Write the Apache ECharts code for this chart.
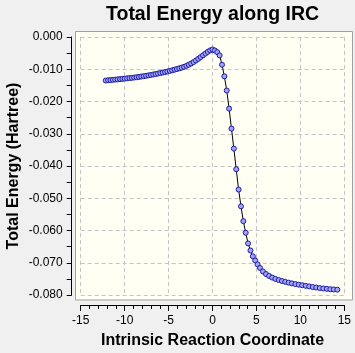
<!DOCTYPE html>
<html>
<head>
<meta charset="utf-8">
<script src="https://cdn.jsdelivr.net/npm/echarts@6/dist/echarts.min.js"></script>
<style>
  html, body { margin: 0; padding: 0; background: #f0f0f0; }
  #chart { width: 355px; height: 353px; }
</style>
</head>
<body>
<div id="chart"></div>
<script>
// IRC coordinate of each point
var ircX = [
    -12.15, -11.88, -11.61, -11.34, -11.07, -10.80, -10.53, -10.26, -9.99, -9.72,
    -9.45, -9.18, -8.91, -8.64, -8.37, -8.10, -7.83, -7.56, -7.29, -7.02,
    -6.75, -6.48, -6.21, -5.94, -5.67, -5.40, -5.13, -4.86, -4.59, -4.32,
    -4.05, -3.78, -3.51, -3.24, -2.97, -2.70, -2.43, -2.16, -1.89, -1.62,
    -1.35, -1.08, -0.81, -0.54, -0.27, 0.00,
    0.27, 0.54, 0.81, 1.08, 1.35, 1.62, 1.89, 2.16, 2.43, 2.70,
    2.97, 3.24, 3.51, 3.78, 4.05, 4.32, 4.59, 4.86, 5.13, 5.40,
    5.74, 6.09, 6.44, 6.80, 7.16, 7.53, 7.90, 8.28, 8.66, 9.04,
    9.43, 9.82, 10.21, 10.61, 11.01, 11.41, 11.81, 12.21, 12.61, 13.01,
    13.41, 13.81, 14.21
];
// relative total energy (Hartree)
var energy = [
    -0.01350, -0.01343, -0.01336, -0.01328, -0.01321, -0.01313, -0.01306, -0.01298, -0.01290, -0.01282,
    -0.01274, -0.01266, -0.01257, -0.01247, -0.01237, -0.01226, -0.01215, -0.01203, -0.01190, -0.01177,
    -0.01163, -0.01149, -0.01134, -0.01118, -0.01102, -0.01088, -0.01070, -0.01051, -0.01032, -0.01013,
    -0.00993, -0.00972, -0.00950, -0.00925, -0.00895, -0.00860, -0.00822, -0.00778, -0.00730, -0.00678,
    -0.00623, -0.00567, -0.00513, -0.00462, -0.00415, -0.00388,
    -0.00418, -0.00470, -0.00570, -0.00860, -0.01220, -0.01660, -0.02220, -0.02840, -0.03460, -0.04100,
    -0.04730, -0.05250, -0.05710, -0.06070, -0.06400, -0.06620, -0.06800, -0.06930, -0.07050, -0.07160,
    -0.07270, -0.07350, -0.07410, -0.07460, -0.07500, -0.07535, -0.07565, -0.07592, -0.07617, -0.07640,
    -0.07661, -0.07680, -0.07698, -0.07716, -0.07734, -0.07752, -0.07768, -0.07784, -0.07798, -0.07810,
    -0.07820, -0.07828, -0.07835
];
var xRange = [-15, 15];
var yRange = [-0.08, 0];

var font = "'Liberation Sans', Arial, sans-serif";
var pts = ircX.map(function (x, i) { return [x, energy[i]]; });

var myChart = echarts.init(document.getElementById('chart'));
myChart.setOption({
    animation: false,
    backgroundColor: '#f0f0f0',
    title: {
        text: 'Total Energy along IRC',
        left: 106,
        top: 5,
        padding: 0,
        textStyle: { fontFamily: font, fontSize: 19.5, fontWeight: 'bold', color: '#000' }
    },
    grid: { left: 80.7, right: 10.7, top: 37, bottom: 58, containLabel: false, outerBoundsMode: 'none' },
    // plot area frame
    graphic: [{
        type: 'rect',
        z: -10,
        shape: { x: 75.5, y: 31.5, width: 277, height: 268.5 },
        style: { fill: '#fffff4', stroke: '#a0a0a0', lineWidth: 1 }
    }],
    xAxis: {
        type: 'value',
        min: xRange[0],
        max: xRange[1],
        interval: 5,
        offset: 10,
        name: 'Intrinsic Reaction Coordinate',
        nameLocation: 'middle',
        nameGap: 28,
        nameTextStyle: { fontFamily: font, fontSize: 16, fontWeight: 'bold', color: '#000' },
        axisLine: { show: true, onZero: false, lineStyle: { color: '#000', width: 1 } },
        axisTick: { show: true, length: 6, lineStyle: { color: '#000' } },
        minorTick: { show: true, splitNumber: 5, length: 4, lineStyle: { color: '#000' } },
        axisLabel: { margin: 10, fontFamily: font, fontSize: 12, color: '#000' },
        splitLine: { show: true, lineStyle: { color: '#c4c4c4', type: [4, 3] } }
    },
    yAxis: {
        type: 'value',
        min: yRange[0],
        max: yRange[1],
        interval: 0.01,
        offset: 9,
        name: 'Total Energy (Hartree)',
        nameLocation: 'middle',
        nameGap: 50,
        nameMoveOverlap: false,
        nameTextStyle: { fontFamily: font, fontSize: 16, fontWeight: 'bold', color: '#000' },
        axisLine: { show: true, onZero: false, lineStyle: { color: '#000', width: 1 } },
        axisTick: { show: true, length: 5, lineStyle: { color: '#000' } },
        minorTick: { show: true, splitNumber: 2, length: 5, lineStyle: { color: '#000' } },
        axisLabel: {
            margin: 9, fontFamily: font, fontSize: 12, color: '#000',
            formatter: function (v) { return v.toFixed(3); }
        },
        splitLine: { show: true, lineStyle: { color: '#c4c4c4', type: [4, 3] } }
    },
    series: [{
        type: 'line',
        data: pts,
        showAllSymbol: true,
        symbol: 'circle',
        symbolSize: 5,
        lineStyle: { color: '#000', width: 1 },
        itemStyle: { color: '#a4a4f4', borderColor: '#1c1ca8', borderWidth: 1 }
    }]
});
</script>
</body>
</html>
